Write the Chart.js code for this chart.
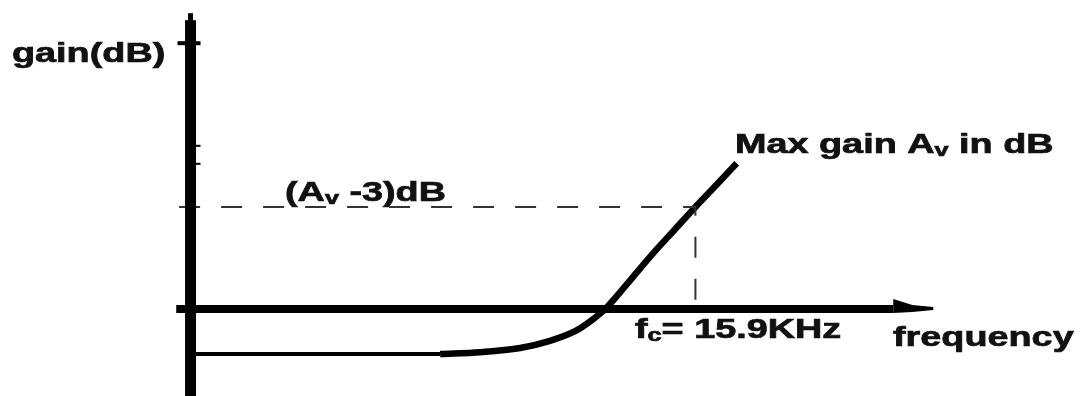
<!DOCTYPE html>
<html>
<head>
<meta charset="utf-8">
<script src="https://cdn.jsdelivr.net/npm/chart.js@4.4.1/dist/chart.umd.min.js"></script>
<style>
  html, body { margin: 0; padding: 0; background: #fff; }
  #wrap { width: 1086px; height: 396px; position: relative; }
</style>
</head>
<body>
<div id="wrap"><canvas id="bode"></canvas></div>
<script>
// high-pass gain sketch: frequency in kHz, gain in dB
var cutoffKHz = 15.9;
var maxGainDb = 20;
var lowBandKHz = [0, 7.86];
var lowBandDb = [-7.5, -7.5];
var riseKHz = [7.86, 9.12, 10.38, 11.32, 12.11, 12.65, 13.06, 13.69, 14.47, 15.26, 15.9, 16.58, 17.2];
var riseDb = [-7.5, -7.2, -6.5, -5.3, -3.7, -1.8, 0, 3.8, 8.7, 13.3, 17, 20.8, 24.3];
var yTickDb = [44.3, 27.2, 24.2];

function pts(xs, ys) {
    var out = [];
    for (var i = 0; i < xs.length; i++) out.push({ x: xs[i], y: ys[i] });
    return out;
}

// -3 dB guide: across from the gain axis, then down to the frequency axis
var guide = [
    { x: -0.36, y: maxGainDb - 3 },
    { x: cutoffKHz, y: maxGainDb - 3 },
    { x: cutoffKHz, y: 0 }
];

// [text, subscript?]
var labels = [
    { parts: [["gain(dB)", false]], x: 12, y: 62 },
    { parts: [["(A", false], ["v", true], [" -3)dB", false]], x: 285, y: 201 },
    { parts: [["Max gain A", false], ["v", true], [" in dB", false]], x: 735, y: 153 },
    { parts: [["f", false], ["c", true], ["= 15.9KHz", false]], x: 635, y: 338 },
    { parts: [["frequency", false]], x: 893, y: 346 }
];

const axesPlugin = {
    id: "sketchAxes",
    afterDatasetsDraw(chart) {
        const ctx = chart.ctx;
        const xs = chart.scales.x, ys = chart.scales.y;
        const ox = xs.getPixelForValue(0), oy = ys.getPixelForValue(0);
        ctx.save();
        ctx.fillStyle = "#000";
        ctx.strokeStyle = "#000";

        // gain axis
        const top = ys.getPixelForValue(49.3);
        ctx.fillRect(ox - 2.5, top, 5, 8);
        ctx.fillRect(ox - 5.5, top + 7, 11, chart.height - top);
        for (var i = 0; i < yTickDb.length; i++) {
            var ty = ys.getPixelForValue(yTickDb[i]);
            if (i === 0) ctx.fillRect(ox - 13, ty - 2, 23, 4);
            else ctx.fillRect(ox + 4, ty - 1, 6, 2);
        }

        // frequency axis with arrow head
        const x0 = xs.getPixelForValue(-0.45);
        const xa = xs.getPixelForValue(22.13);
        const xb = xs.getPixelForValue(22.73);
        const xe = xs.getPixelForValue(23.39);
        ctx.fillRect(x0, oy - 4, xa - x0, 8);
        ctx.beginPath();
        ctx.moveTo(xa, oy - 10);
        ctx.lineTo(xb, oy - 4);
        ctx.lineTo(xe, oy - 2);
        ctx.lineTo(xe, oy + 1);
        ctx.lineTo(xb, oy + 3);
        ctx.lineTo(xa, oy + 4);
        ctx.closePath();
        ctx.fill();

        // text, drawn a bit wide like the rest of the sketch
        ctx.fillStyle = "#111";
        ctx.strokeStyle = "#111";
        ctx.lineWidth = 0.7;
        ctx.textBaseline = "alphabetic";
        for (var j = 0; j < labels.length; j++) {
            var lb = labels[j];
            ctx.save();
            ctx.translate(lb.x, lb.y);
            ctx.scale(1.4, 1);
            var cx = 0;
            for (var k = 0; k < lb.parts.length; k++) {
                var p = lb.parts[k];
                ctx.font = p[1] ? "bold 18px 'Liberation Sans', Arial, sans-serif"
                                : "bold 27px 'Liberation Sans', Arial, sans-serif";
                ctx.fillText(p[0], cx, p[1] ? 3 : 0);
                ctx.strokeText(p[0], cx, p[1] ? 3 : 0);
                cx += ctx.measureText(p[0]).width;
            }
            ctx.restore();
        }
        ctx.restore();
    }
};

new Chart(document.getElementById("bode"), {
    type: "line",
    data: {
        datasets: [
            {
                data: guide,
                borderColor: "#333",
                borderWidth: 2,
                borderDash: [21, 21],
                pointRadius: 0,
                tension: 0
            },
            {
                data: pts(lowBandKHz, lowBandDb),
                borderColor: "#000",
                borderWidth: 4,
                pointRadius: 0,
                tension: 0
            },
            {
                data: pts(riseKHz, riseDb),
                borderColor: "#000",
                borderWidth: 6.5,
                pointRadius: 0,
                cubicInterpolationMode: "monotone"
            }
        ]
    },
    options: {
        responsive: true,
        maintainAspectRatio: false,
        animation: false,
        layout: { padding: 0 },
        plugins: { legend: { display: false }, tooltip: { enabled: false } },
        scales: {
            x: { type: "linear", min: -6, max: 28.2, display: false },
            y: { type: "linear", min: -14.5, max: 51.5, display: false }
        }
    },
    plugins: [axesPlugin]
});
</script>
</body>
</html>
